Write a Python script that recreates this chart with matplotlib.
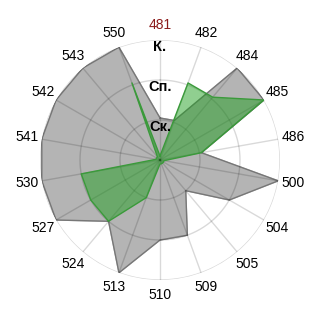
import numpy as np
import matplotlib
matplotlib.use("Agg")
import matplotlib.pyplot as plt

plt.rcParams['font.family'] = ['Liberation Sans', 'DejaVu Sans']

categories = ["481", "482", "484", "485", "486", "500", "504", "505", "509",
              "510", "513", "524", "527", "530", "541", "542", "543", "550"]
gray_values = [1.05, 1.05, 3, 3, 1.05, 3, 2, 1, 2, 2, 3, 2, 3, 3, 3, 3, 3, 3]
green_values = [0.1, 2.05, 2.05, 3, 1.05, 0.1, 0.1, 0.1, 0.1, 0.1, 1, 2, 2, 2,
                0.1, 0.1, 0.1, 2.05]
ring_values = [1, 2, 3]
ring_labels = ["Ск.", "Сп.", "К."]

n = len(categories)
theta = np.arange(n) * 2 * np.pi / n

fig = plt.figure(figsize=(3.2, 3.2), dpi=100)
ax = fig.add_axes([0.125, 0.125, 0.75, 0.75], projection="polar")
ax.set_theta_zero_location("N")
ax.set_theta_direction(-1)
ax.set_ylim(0, 3)
ax.grid(False)
ax.set_xticks([])
ax.set_yticks([])
ax.spines["polar"].set_visible(False)

tc = np.append(theta, theta[0])
gv = np.append(gray_values, gray_values[0])
ev = np.append(green_values, green_values[0])

ax.fill(tc, gv, color="#b4b4b4", zorder=1)
ax.plot(tc, gv, color="#777777", lw=1, zorder=1.5)

# grid on top
tt = np.linspace(0, 2 * np.pi, 361)
for r in ring_values:
    ax.plot(tt, np.full_like(tt, r), color="black", alpha=0.15, lw=1, zorder=2)
for t in theta:
    ax.plot([t, t], [0, 3], color="black", alpha=0.15, lw=1, zorder=2)

ax.fill(tc, ev, color="#22a022", alpha=0.5, zorder=3, lw=0)
ax.plot(tc, ev, color="#3a9a3a", lw=1, zorder=3.5)

for t, lab in zip(theta, categories):
    col = "#8b1a1a" if lab == "481" else "black"
    ax.text(t, 3.38, lab, ha="center", va="center", fontsize=10, color=col,
            clip_on=False)

for r, lab in zip(ring_values, ring_labels):
    ax.text(0, r - 0.17, lab, ha="center", va="center", fontsize=10.5,
            fontweight="bold", color="black", zorder=5)

fig.savefig("out.png", dpi=100)
